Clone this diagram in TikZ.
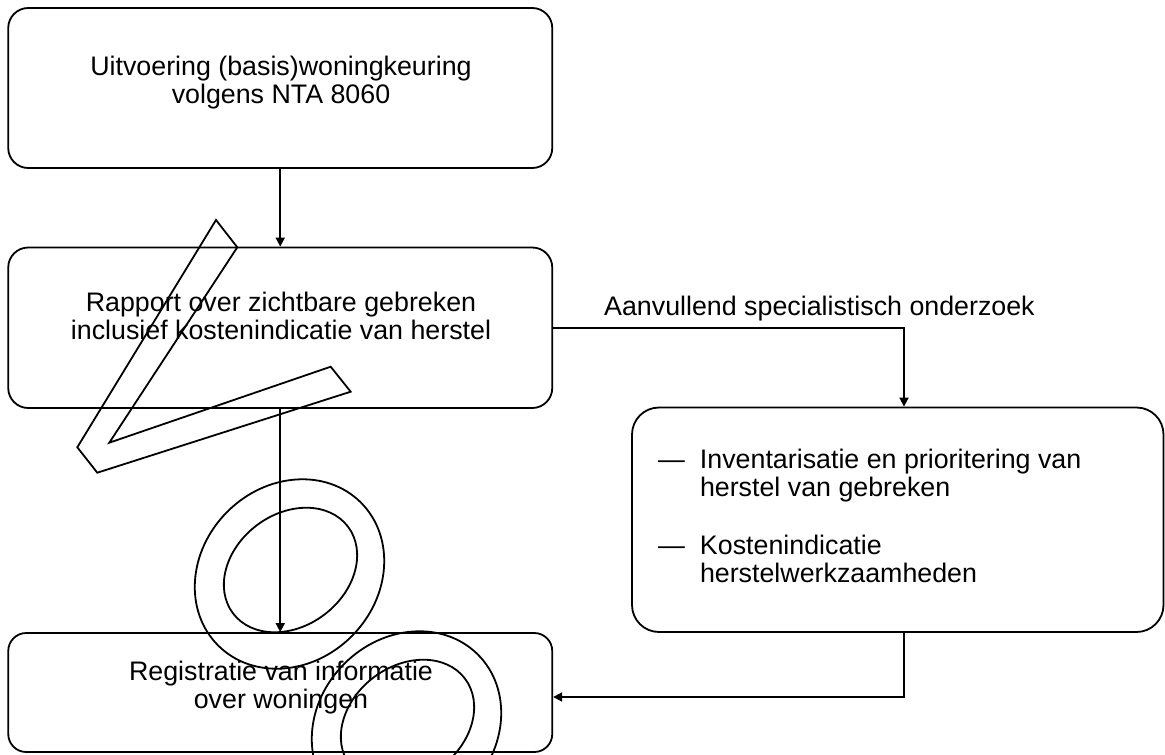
\documentclass[tikz,border=0pt]{standalone}
\usepackage{fontspec}
\setmainfont{Liberation Sans}
\usetikzlibrary{arrows.meta}
\begin{document}
\begin{tikzpicture}[x=1pt,y=-1pt,
  box/.style={draw, line width=1.8pt, rounded corners=20pt, inner sep=0pt},
  txt/.style={inner sep=0pt, font=\fontsize{26.8}{28.5}\selectfont},
  arr/.style={line width=1.8pt, -{Triangle[length=9pt,width=9pt]}},
  scribble/.style={line width=1.8pt, line join=miter}]
\useasboundingbox (0,0) rectangle (1165,755);
\clip (0,0) rectangle (1165,755);
% boxes
\node[box, minimum width=544pt, minimum height=160pt] (b1) at (280.25,88) {};
\node[box, minimum width=544pt, minimum height=160.5pt] (b2) at (280.25,327.75) {};
\node[box, rounded corners=27pt, minimum width=531.5pt, minimum height=224.5pt] (b3) at (897.75,519.75) {};
\node[box, rounded corners=18pt, minimum width=544pt, minimum height=119pt] (b4) at (280.25,692.5) {};
% texts
\node[txt, anchor=base] (t1) at (281,75) {\begin{tabular}[t]{@{}c@{}}Uitvoering (basis)woningkeuring\\volgens NTA 8060\end{tabular}};
\node[txt, anchor=base] (t2) at (281,311) {\begin{tabular}[t]{@{}c@{}}Rapport over zichtbare gebreken\\inclusief kostenindicatie van herstel\end{tabular}};
\node[txt, anchor=base] (t4) at (281,680) {\begin{tabular}[t]{@{}c@{}}Registratie van informatie\\over woningen\end{tabular}};
\node[txt, anchor=base west] (t3) at (658,468.3) {\begin{tabular}[t]{@{}l@{\hspace{15pt}}l@{}}—&Inventarisatie en prioritering van\\ &herstel van gebreken\\[29pt]—&Kostenindicatie\\ &herstelwerkzaamheden\end{tabular}};
\node[txt, anchor=base west] (la) at (604,315) {Aanvullend specialistisch onderzoek};
% connectors
\coordinate (k) at (904,0);
\coordinate (m) at (0,697);
\draw[arr] (b1.south) -- (b2.north);
\draw[arr] (b2.south) -- (b4.north);
\draw[arr] (b2.east) -| (k |- b3.north);
\draw[arr] (k |- b3.south) |- (b4.east |- m);
% scribbles
\draw[scribble] (216,220) -- (237.3,247.3) -- (109.3,442.7) -- (330.7,366.7) -- (350.7,391.7) -- (97.3,472.7) -- (77.3,447.3) -- cycle;
\draw[scribble, rotate around={45:(289.5,574)}] (289.5,574) ellipse [x radius=101, y radius=88];
\draw[scribble, rotate around={37:(290.5,570)}] (290.5,570) ellipse [x radius=72, y radius=56];
\draw[scribble, rotate around={45:(406.5,726)}] (406.5,726) ellipse [x radius=101, y radius=88];
\draw[scribble, rotate around={37:(407.5,722)}] (407.5,722) ellipse [x radius=72, y radius=56];
\end{tikzpicture}
\end{document}
